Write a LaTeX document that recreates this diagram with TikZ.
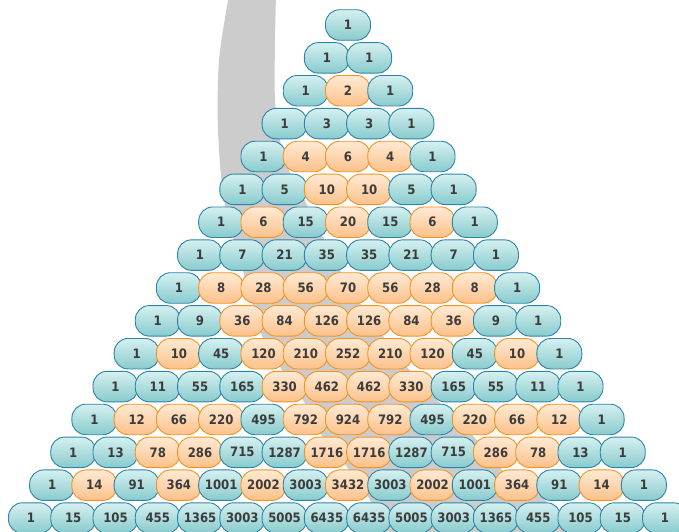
\documentclass[tikz,border=0pt]{standalone}
\usepackage{fontspec}
\newfontfamily\cellfont{DejaVu Sans Condensed}
\usetikzlibrary{positioning}

\definecolor{tealtop}{RGB}{214,240,240}
\definecolor{tealbot}{RGB}{136,203,205}
\definecolor{tealline}{RGB}{44,132,168}
\definecolor{orgtop}{RGB}{255,234,212}
\definecolor{orgbot}{RGB}{252,193,138}
\definecolor{orgline}{RGB}{246,146,32}
\definecolor{numtext}{RGB}{60,60,60}
\definecolor{band}{RGB}{204,204,204}

\begin{document}
\begin{tikzpicture}[
  x=1pt, y=-1pt,
  font=\cellfont\bfseries\fontsize{13}{15}\selectfont,
  cell/.style={
    rounded corners=14pt, line width=0.9pt, inner sep=0pt,
    minimum width=45pt, minimum height=30.5pt, text=numtext
  },
  oddcell/.style={cell, draw=tealline, top color=tealtop, bottom color=tealbot},
  evencell/.style={cell, draw=orgline, top color=orgtop, bottom color=orgbot}
]
\useasboundingbox (0,0) rectangle (679,531);

% ---------- gray band behind the triangle ----------
\fill[band] plot[smooth] coordinates {(229,-5) (219,60) (218,130) (224,200)
    (240,260) (252,303) (262,336) (280,367) (303,400) (320,433) (347,467)
    (370,500) (385,540)}
  -- plot[smooth] coordinates {(570,540) (545,500) (500,468) (473,436)
    (437,400) (407,367) (383,336) (360,303) (340,270) (323,237) (307,205)
    (285,160) (275,100) (276,-5)} -- cycle;

% ---------- the rows ----------
\def\dx{42.27}
\def\dy{32.87}
\foreach \n in {0,...,15}{
  \xdef\cval{1}
  \foreach \k in {0,...,\n}{
    \ifodd\cval
      \node[oddcell] (c-\n-\k) at ({348+(\k-\n/2)*\dx},{25+\n*\dy}) {\cval};
    \else
      \node[evencell] (c-\n-\k) at ({348+(\k-\n/2)*\dx},{25+\n*\dy}) {\cval};
    \fi
    \xdef\cval{\the\numexpr\cval*(\n-\k)/(\k+1)\relax}
  }
}

\end{tikzpicture}
\end{document}
